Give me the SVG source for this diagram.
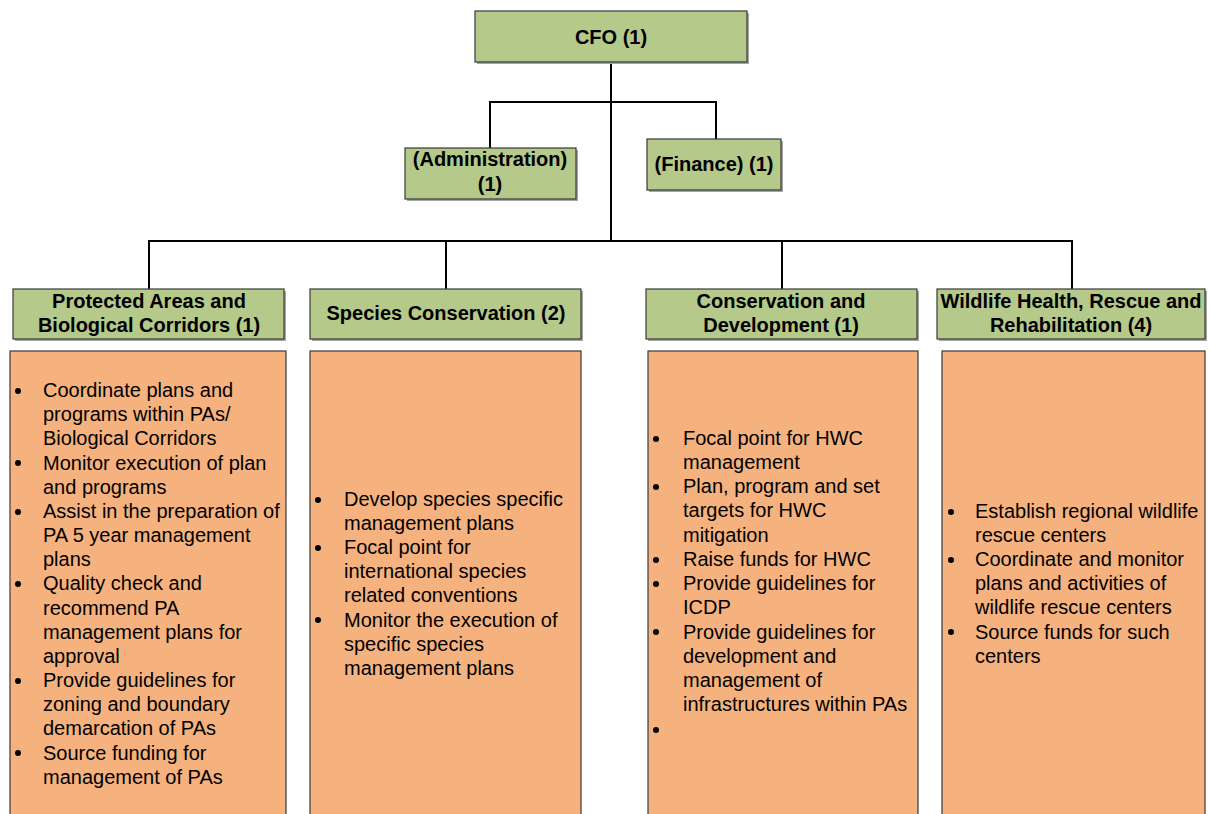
<svg xmlns="http://www.w3.org/2000/svg" width="1210" height="814" viewBox="0 0 1210 814">
<style>
.g{fill:#b5c98a;stroke:#3a3a3a;stroke-width:1.2}
.sh{fill:#a6a6a6}
.o{fill:#f5b27e;stroke:#3a3a3a;stroke-width:1.2}
.h{font-family:"Liberation Sans",Arial,sans-serif;font-size:20px;font-weight:bold;fill:#000;text-anchor:middle}
.t{font-family:"Liberation Sans",Arial,sans-serif;font-size:20px;fill:#000}
.c{fill:none;stroke:#000;stroke-width:2}
.b{fill:#000}
</style>
<rect width="1210" height="814" fill="#fff"/>
<g id="connectors">
<path class="c" d="M611,62 V241"/>
<path class="c" d="M490,148 V102 H716 V139"/>
<path class="c" d="M149,289 V241 H1072 V289"/>
<path class="c" d="M446,241 V289"/>
<path class="c" d="M782,241 V289"/>
</g>
<g id="cfo">
<rect class="sh" x="477" y="13" width="272" height="51"/>
<rect class="g" x="475" y="11" width="272" height="51"/>
<text class="h" x="611" y="44">CFO (1)</text>
</g>
<g id="administration">
<rect class="sh" x="407" y="150" width="171" height="51"/>
<rect class="g" x="405" y="148" width="171" height="51"/>
<text class="h" x="490" y="166">(Administration)</text>
<text class="h" x="490" y="191">(1)</text>
</g>
<g id="finance">
<rect class="sh" x="649" y="141" width="134" height="51"/>
<rect class="g" x="647" y="139" width="134" height="51"/>
<text class="h" x="714" y="171">(Finance) (1)</text>
</g>
<g id="protected-areas">
<rect class="sh" x="15" y="291" width="271" height="50"/>
<rect class="g" x="13" y="289" width="271" height="50"/>
<text class="h" x="149" y="308">Protected Areas and</text>
<text class="h" x="149" y="332">Biological Corridors (1)</text>
<rect class="o" x="10" y="351" width="276" height="470"/>
<g class="b">
<circle cx="18" cy="391" r="3"/><circle cx="18" cy="463" r="3"/><circle cx="18" cy="512" r="3"/><circle cx="18" cy="584" r="3"/><circle cx="18" cy="681" r="3"/><circle cx="18" cy="753" r="3"/>
</g>
<text class="t">
<tspan x="43" y="397">Coordinate plans and</tspan>
<tspan x="43" y="421">programs within PAs/</tspan>
<tspan x="43" y="445">Biological Corridors</tspan>
<tspan x="43" y="470">Monitor execution of plan</tspan>
<tspan x="43" y="494">and programs</tspan>
<tspan x="43" y="518">Assist in the preparation of</tspan>
<tspan x="43" y="542">PA 5 year management</tspan>
<tspan x="43" y="566">plans</tspan>
<tspan x="43" y="590">Quality check and</tspan>
<tspan x="43" y="615">recommend PA</tspan>
<tspan x="43" y="639">management plans for</tspan>
<tspan x="43" y="663">approval</tspan>
<tspan x="43" y="687">Provide guidelines for</tspan>
<tspan x="43" y="711">zoning and boundary</tspan>
<tspan x="43" y="735">demarcation of PAs</tspan>
<tspan x="43" y="760">Source funding for</tspan>
<tspan x="43" y="784">management of PAs</tspan>
</text>
</g>
<g id="species-conservation">
<rect class="sh" x="312" y="291" width="271" height="50"/>
<rect class="g" x="310" y="289" width="271" height="50"/>
<text class="h" x="446" y="320">Species Conservation (2)</text>
<rect class="o" x="310" y="351" width="271" height="470"/>
<g class="b">
<circle cx="318" cy="500" r="3"/><circle cx="318" cy="548" r="3"/><circle cx="318" cy="620" r="3"/>
</g>
<text class="t">
<tspan x="344" y="506">Develop species specific</tspan>
<tspan x="344" y="530">management plans</tspan>
<tspan x="344" y="554">Focal point for</tspan>
<tspan x="344" y="578">international species</tspan>
<tspan x="344" y="602">related conventions</tspan>
<tspan x="344" y="627">Monitor the execution of</tspan>
<tspan x="344" y="651">specific species</tspan>
<tspan x="344" y="675">management plans</tspan>
</text>
</g>
<g id="conservation-development">
<rect class="sh" x="648" y="291" width="271" height="50"/>
<rect class="g" x="646" y="289" width="271" height="50"/>
<text class="h" x="781" y="308">Conservation and</text>
<text class="h" x="781" y="332">Development (1)</text>
<rect class="o" x="648" y="351" width="270" height="470"/>
<g class="b">
<circle cx="656" cy="439" r="3"/><circle cx="656" cy="487" r="3"/><circle cx="656" cy="560" r="3"/><circle cx="656" cy="584" r="3"/><circle cx="656" cy="632" r="3"/><circle cx="656" cy="730" r="3"/>
</g>
<text class="t">
<tspan x="683" y="445">Focal point for HWC</tspan>
<tspan x="683" y="469">management</tspan>
<tspan x="683" y="493">Plan, program and set</tspan>
<tspan x="683" y="517">targets for HWC</tspan>
<tspan x="683" y="542">mitigation</tspan>
<tspan x="683" y="566">Raise funds for HWC</tspan>
<tspan x="683" y="590">Provide guidelines for</tspan>
<tspan x="683" y="614">ICDP</tspan>
<tspan x="683" y="639">Provide guidelines for</tspan>
<tspan x="683" y="663">development and</tspan>
<tspan x="683" y="687">management of</tspan>
<tspan x="683" y="711">infrastructures within PAs</tspan>
</text>
</g>
<g id="wildlife-health">
<rect class="sh" x="939" y="291" width="268" height="50"/>
<rect class="g" x="937" y="289" width="268" height="50"/>
<text class="h" x="1071" y="308">Wildlife Health, Rescue and</text>
<text class="h" x="1071" y="332">Rehabilitation (4)</text>
<rect class="o" x="942" y="351" width="263" height="470"/>
<g class="b">
<circle cx="951" cy="512" r="3"/><circle cx="951" cy="560" r="3"/><circle cx="951" cy="632" r="3"/>
</g>
<text class="t">
<tspan x="975" y="518">Establish regional wildlife</tspan>
<tspan x="975" y="542">rescue centers</tspan>
<tspan x="975" y="566">Coordinate and monitor</tspan>
<tspan x="975" y="590">plans and activities of</tspan>
<tspan x="975" y="614">wildlife rescue centers</tspan>
<tspan x="975" y="639">Source funds for such</tspan>
<tspan x="975" y="663">centers</tspan>
</text>
</g>
</svg>
